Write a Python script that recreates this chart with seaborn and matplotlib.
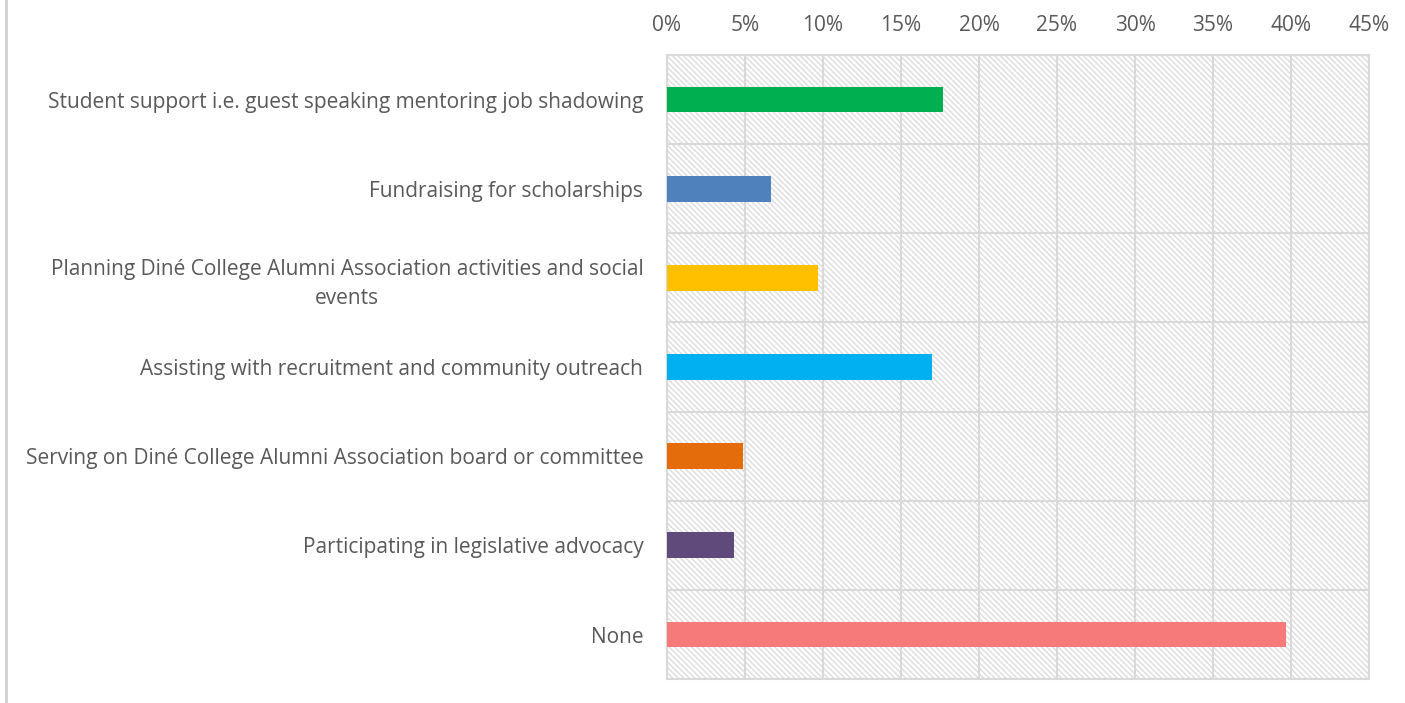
import matplotlib
matplotlib.use("Agg")
import matplotlib.pyplot as plt
import seaborn as sns
import pandas as pd
from matplotlib.patches import Rectangle
from matplotlib.ticker import FuncFormatter, FixedLocator
from matplotlib.lines import Line2D

categorias = [
    "Student support i.e. guest speaking mentoring job shadowing",
    "Fundraising for scholarships",
    "Planning Diné College Alumni Association activities and social\nevents",
    "Assisting with recruitment and community outreach",
    "Serving on Diné College Alumni Association board or committee",
    "Participating in legislative advocacy",
    "None",
]
valores = [17.7, 6.7, 9.7, 17.0, 4.9, 4.3, 39.7]
colores = ["#00B050", "#4F81BD", "#FFC000", "#00B0F0", "#E46C0A", "#604A7B", "#F77A7A"]

datos = pd.DataFrame({"cat": categorias, "val": valores})

sns.set_style("white")
plt.rcParams["font.family"] = ["Open Sans", "DejaVu Sans"]
plt.rcParams["hatch.linewidth"] = 1.0

fig = plt.figure(figsize=(14.05, 7.03), dpi=100)
ax = fig.add_axes([0.4747, 0.034, 0.4997, 0.8878])

# fondo rayado
ax.add_patch(Rectangle((0, 0), 1, 1, transform=ax.transAxes, fill=False,
                       hatch="\\" * 6, edgecolor="#dcdcdc", lw=0, zorder=0))

sns.barplot(data=datos, x="val", y="cat", hue="cat", palette=colores,
            width=0.29, orient="h", legend=False, ax=ax, zorder=3,
            saturation=1, edgecolor="none")

ax.set_xlim(0, 45)
ax.set_ylim(6.5, -0.5)
ax.set_xticks(range(0, 50, 5))
ax.xaxis.set_major_formatter(FuncFormatter(lambda v, p: f"{int(v)}%"))
ax.xaxis.tick_top()
ax.tick_params(axis="x", length=0, pad=14, labelsize=15, labelcolor="#595959")
ax.tick_params(axis="y", which="major", length=0, pad=17, labelsize=15, labelcolor="#595959")
ax.yaxis.set_minor_locator(FixedLocator([i - 0.5 for i in range(8)]))
ax.tick_params(axis="y", which="minor", length=7, color="#d9d9d9", width=1.5)
ax.grid(axis="x", which="major", color="#d9d9d9", lw=1.5, zorder=1)
ax.grid(axis="y", which="minor", color="#d9d9d9", lw=1.5, zorder=1)
ax.set_axisbelow(True)
for lbl in ax.get_yticklabels():
    lbl.set_multialignment("center")
    lbl.set_linespacing(1.45)
for s in ax.spines.values():
    s.set_color("#d9d9d9")
    s.set_linewidth(1.5)
ax.set_xlabel("")
ax.set_ylabel("")

# borde izquierdo de la figura
fig.add_artist(Line2D([0.004, 0.004], [0, 1], transform=fig.transFigure,
                      color="#d0d0d0", lw=2))

plt.savefig("out.png", dpi=100)
